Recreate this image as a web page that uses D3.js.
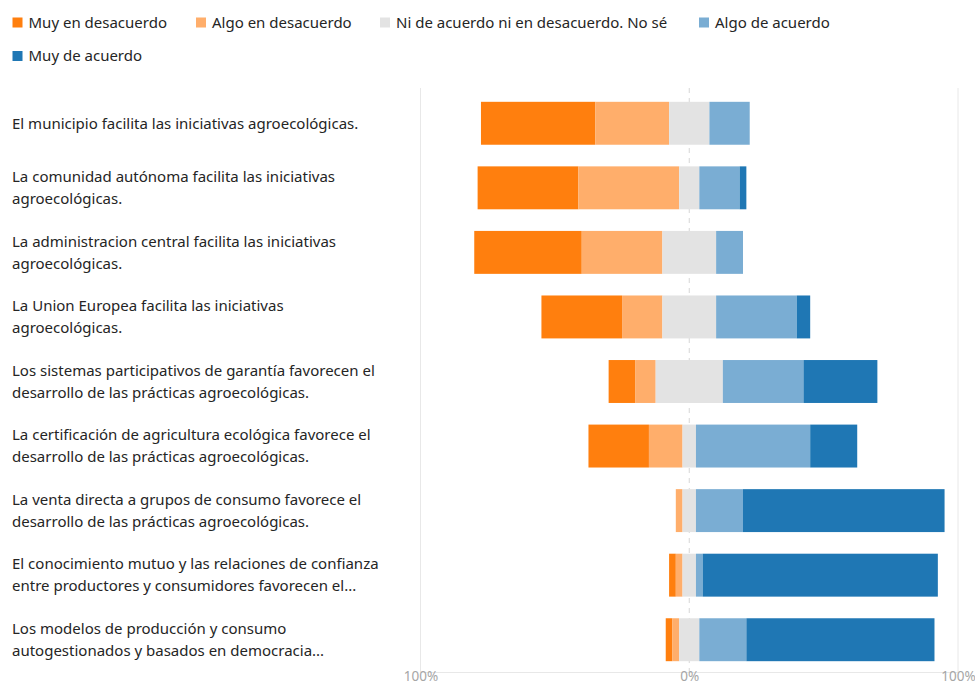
<!DOCTYPE html>
<html>
<head>
<meta charset="utf-8">
<script src="https://cdn.jsdelivr.net/npm/d3@7"></script>
<style>
  html, body { margin: 0; padding: 0; background: #fff; }
  svg { display: block; font-family: "Noto Sans", "Open Sans", sans-serif; }
</style>
</head>
<body>
<svg id="chart" width="975" height="686"></svg>
<script>
// ---- Data (percent of respondents) ----
const categories = [
  "El municipio facilita las iniciativas agroecológicas.",
  "La comunidad autónoma facilita las iniciativas agroecológicas.",
  "La administracion central facilita las iniciativas agroecológicas.",
  "La Union Europea facilita las iniciativas agroecológicas.",
  "Los sistemas participativos de garantía favorecen el desarrollo de las prácticas agroecológicas.",
  "La certificación de agricultura ecológica favorece el desarrollo de las prácticas agroecológicas.",
  "La venta directa a grupos de consumo favorece el desarrollo de las prácticas agroecológicas.",
  "El conocimiento mutuo y las relaciones de confianza entre productores y consumidores favorecen el...",
  "Los modelos de producción y consumo autogestionados y basados en democracia..."
];
const seriesNames = [
  "Muy en desacuerdo",
  "Algo en desacuerdo",
  "Ni de acuerdo ni en desacuerdo. No sé",
  "Algo de acuerdo",
  "Muy de acuerdo"
];
const muyEnDesacuerdo  = [42.5, 37.5, 40, 30, 10, 22.5, 0, 2.5, 2.5];
const algoEnDesacuerdo = [27.5, 37.5, 30, 15, 7.5, 12.5, 2.5, 2.5, 2.5];
const niAcuerdo        = [15, 7.5, 20, 20, 25, 5, 5, 5, 7.5];
const algoDeAcuerdo    = [15, 15, 10, 30, 30, 42.5, 17.5, 2.5, 17.5];
const muyDeAcuerdo     = [0, 2.5, 0, 5, 27.5, 17.5, 75, 87.5, 70];
const tickValues = [-100, 0, 100];
const tickLabels = ["100%", "0%", "100%"];
const colors = ["#ff7f0e", "#ffae6b", "#e3e3e3", "#7aadd3", "#1f77b4"];

const seriesValues = [muyEnDesacuerdo, algoEnDesacuerdo, niAcuerdo, algoDeAcuerdo, muyDeAcuerdo];

// ---- Build diverging segments ----
const segments = [];
categories.forEach((cat, i) => {
  const v = seriesValues.map(s => s[i]);
  let start = -(v[0] + v[1] + v[2] / 2);
  v.forEach((val, k) => {
    segments.push({cat, k, x0: start, x1: start + val});
    start += val;
  });
});

const svg = d3.select("#chart");
const x = d3.scaleLinear().domain([-100, 100]).range([420.5, 958]);
const y = d3.scaleBand().domain(categories).range([91, 672]).paddingInner(0.335).paddingOuter(0.1675);

// gridlines
const grid = svg.append("g");
grid.selectAll("line.g").data(tickValues).join("line")
  .attr("x1", d => x(d)).attr("x2", d => x(d))
  .attr("y1", 88).attr("y2", 672)
  .attr("stroke", d => d === 0 ? "#d6d6d6" : "#e8e8e8")
  .attr("stroke-width", 1)
  .attr("stroke-dasharray", d => d === 0 ? "5,5" : null);
grid.append("line")
  .attr("x1", x(-100)).attr("x2", x(100))
  .attr("y1", 672.5).attr("y2", 672.5)
  .attr("stroke", "#e8e8e8");

// bars
svg.append("g").selectAll("rect").data(segments.filter(s => s.x1 > s.x0)).join("rect")
  .attr("x", d => x(d.x0))
  .attr("width", d => x(d.x1) - x(d.x0))
  .attr("y", d => y(d.cat))
  .attr("height", y.bandwidth())
  .attr("fill", d => colors[d.k]);

// axis labels
const axis = d3.axisBottom(x).tickValues(tickValues).tickFormat((d, i) => tickLabels[i]).tickSize(0).tickPadding(0);
const ax = svg.append("g").attr("transform", "translate(0,672)").call(axis);
ax.select(".domain").remove();
ax.selectAll("text")
  .attr("y", 9)
  .attr("dy", "0")
  .attr("font-family", "'Noto Sans', sans-serif")
  .attr("font-size", 13.5)
  .attr("fill", "#a6a6a6");

// category labels with wrapping
const maxW = 378;
const lab = svg.append("g");
categories.forEach(cat => {
  const t = lab.append("text")
    .attr("x", 12)
    .attr("font-size", 15)
    .attr("fill", "#252525");
  const words = cat.split(" ");
  const lines = [];
  let cur = [];
  const probe = t.append("tspan");
  words.forEach(w => {
    const test = cur.concat([w]).join(" ");
    probe.text(test);
    if (probe.node().getComputedTextLength() > maxW && cur.length) {
      lines.push(cur.join(" "));
      cur = [w];
    } else cur.push(w);
  });
  if (cur.length) lines.push(cur.join(" "));
  probe.remove();
  const cy = y(cat) + y.bandwidth() / 2;
  const lh = 22;
  const top = cy - (lines.length - 1) * lh / 2;
  lines.forEach((ln, j) => {
    t.append("tspan").attr("x", 12).attr("y", top + j * lh).attr("dy", "0.35em").text(ln);
  });
});

// legend
const legendPos = [[12.5, 17.5], [196, 17.5], [380, 17.5], [699, 17.5], [12.5, 51]];
const leg = svg.append("g");
seriesNames.forEach((name, k) => {
  const [lx, ly] = legendPos[k];
  leg.append("rect").attr("x", lx).attr("y", ly).attr("width", 10).attr("height", 10).attr("fill", colors[k]);
  leg.append("text").attr("x", lx + 16).attr("y", ly + 5).attr("dy", "0.35em")
    .attr("font-size", 15).attr("fill", "#252525").text(name);
});
</script>
</body>
</html>
